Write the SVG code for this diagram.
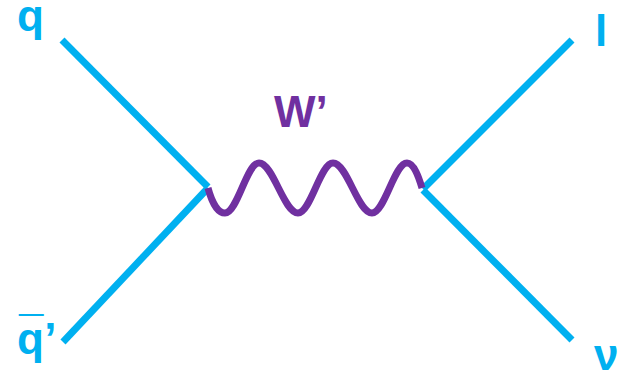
<svg xmlns="http://www.w3.org/2000/svg" width="625" height="374" viewBox="0 0 625 374">
<style>
.f{stroke:#00B0F0;stroke-width:7;fill:none;stroke-linecap:butt}
.w{stroke:#7030A0;stroke-width:7;fill:none;stroke-linecap:butt}
.lb{font-family:"Liberation Sans",Arial,sans-serif;font-weight:bold;font-size:44px}
.b{fill:#00B0F0}.p{fill:#7030A0}
</style>
<rect width="625" height="374" fill="#fff"/>
<g id="connectors">
<line class="f" x1="62" y1="40" x2="208" y2="187"/>
<line class="f" x1="63" y1="342" x2="208" y2="188"/>
<line class="f" x1="572" y1="40" x2="423" y2="189"/>
<line class="f" x1="572" y1="340" x2="423" y2="190"/>
<path class="w" d="M208,188 C212,203 218,213 225,213 C237.4,213 246.6,163 259,163 C273.2,163 283.8,213 298,213 C310.7,213 320.3,163 333,163 C347.2,163 357.8,213 372,213 C384.7,213 394.3,163 407,163 C414,163 419,178 422,188"/>
</g>
<g id="q"><text class="lb b" x="17" y="31">q</text></g>
<g id="qbar"><text class="lb b" x="17" y="354">q<tspan dx="-25" dy="-6">¯</tspan><tspan dx="1" dy="6">’</tspan></text></g>
<g id="l"><text class="lb b" x="595" y="46">l</text></g>
<g id="nu"><text class="lb b" x="594" y="370">ν</text></g>
<g id="W"><text class="lb p" x="274" y="127">W’</text></g>
</svg>
